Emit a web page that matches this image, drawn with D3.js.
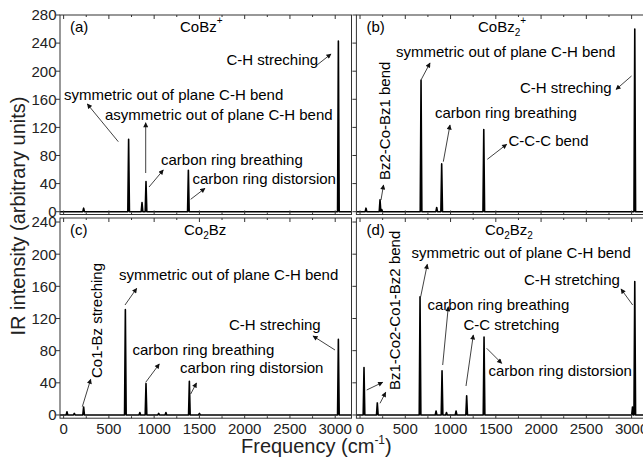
<!DOCTYPE html>
<html>
<head>
<meta charset="utf-8">
<script src="https://cdn.jsdelivr.net/npm/d3@7/dist/d3.min.js"></script>
<style>
body { margin: 0; background: #fff; }
svg { display: block; font-family: "Liberation Sans", Arial, sans-serif; }
</style>
</head>
<body>
<div id="chart"></div>
<script>
// peak positions (cm-1) and intensities
const freqA = [221, 718, 866, 910, 1378, 3035];
const intensA = [5, 103, 13, 43, 59, 243];

const freqB = [66, 221, 240, 674, 847, 902, 1367, 3035];
const intensB = [5, 17, 3, 187, 6, 68, 117, 260];

const freqC = [37, 118, 221, 682, 842, 910, 1050, 1130, 1389, 1500, 3035];
const intensC = [4, 2, 10, 131, 3, 39, 2, 3, 42, 2, 94];

const freqD = [44, 191, 663, 840, 906, 955, 1061, 1178, 1370, 3010, 3035];
const intensD = [59, 15, 147, 5, 55, 3, 5, 24, 97, 10, 166];

const yTicksTop = [0, 40, 80, 120, 160, 200, 240, 280];
const yTicksBottom = [0, 40, 80, 120, 160, 200, 240];
const xTicks = [0, 500, 1000, 1500, 2000, 2500, 3000];
const xMinor = [250, 750, 1250, 1750, 2250, 2750];

const width = 643, height = 462;
const fs = 15;

const svg = d3.select('#chart')
    .append('svg')
    .attr('width', width)
    .attr('height', height);

svg.append('defs').append('marker')
    .attr('id', 'head')
    .attr('viewBox', '0 0 10 10')
    .attr('refX', 9)
    .attr('refY', 5)
    .attr('markerUnits', 'userSpaceOnUse')
    .attr('markerWidth', 6)
    .attr('markerHeight', 5)
    .attr('orient', 'auto')
    .append('path')
    .attr('d', 'M0,0 L10,5 L0,10 z')
    .attr('fill', '#111');

const panels = [
    {
        name: '(a)', freq: freqA, inten: intensA, left: 60, top: 15, bottom: 214.5,
        yDomain: [-4, 280], yTicks: yTicksTop, yLabels: true, xLabels: false,
        title: [{t: 'CoBz'}, {t: '+', sup: true}], titleX: 180,
        notes: [
            {t: 'C-H streching', x: 226.5, y: 65},
            {t: 'symmetric out of plane C-H bend', x: 64, y: 100},
            {t: 'asymmetric out of plane C-H bend', x: 105, y: 120},
            {t: 'carbon ring breathing', x: 161, y: 165},
            {t: 'carbon ring distorsion', x: 192.5, y: 184}
        ],
        arrows: [
            [317, 65, 331, 54],
            [118.3, 141.7, 87.3, 104],
            [145.7, 173, 145.7, 122.7],
            [149, 187, 163.3, 170],
            [190.7, 199.3, 205, 188.3]
        ]
    },
    {
        name: '(b)', freq: freqB, inten: intensB, left: 356.4, top: 15, bottom: 214.5,
        yDomain: [-4, 280], yTicks: yTicksTop, yLabels: false, xLabels: false,
        title: [{t: 'CoBz'}, {t: '2', sub: true}, {t: '+', sup: true}], titleX: 478,
        notes: [
            {t: 'symmetric out of plane C-H bend', x: 396, y: 56.5},
            {t: 'C-H streching', x: 520, y: 92.5},
            {t: 'carbon ring breathing', x: 435, y: 118},
            {t: 'C-C-C bend', x: 508.5, y: 146},
            {t: 'Bz2-Co-Bz1 bend', x: 390, y: 180, rot: true}
        ],
        arrows: [
            [381, 200, 383.5, 185],
            [421, 80, 430, 63],
            [631.5, 76, 616, 89.5],
            [443.3, 161.7, 450, 125],
            [487.3, 159.3, 506.7, 144.3]
        ]
    },
    {
        name: '(c)', freq: freqC, inten: intensC, left: 60, top: 218, bottom: 418.2,
        yDomain: [-4, 245], yTicks: yTicksBottom, yLabels: true, xLabels: true,
        title: [{t: 'Co'}, {t: '2', sub: true}, {t: 'Bz'}], titleX: 184,
        notes: [
            {t: 'symmetric out of plane C-H bend', x: 119, y: 280},
            {t: 'C-H streching', x: 229, y: 330},
            {t: 'carbon ring breathing', x: 132.5, y: 355},
            {t: 'carbon ring distorsion', x: 180, y: 372.5},
            {t: 'Co1-Bz streching', x: 101.5, y: 378, rot: true}
        ],
        arrows: [
            [82.3, 406.7, 90.7, 379.3],
            [125, 305, 136.7, 288.3],
            [335, 350, 313, 336],
            [145.7, 382.3, 159.3, 364],
            [190.7, 394, 196.5, 383]
        ]
    },
    {
        name: '(d)', freq: freqD, inten: intensD, left: 356.4, top: 218, bottom: 418.2,
        yDomain: [-4, 245], yTicks: yTicksBottom, yLabels: false, xLabels: true,
        title: [{t: 'Co'}, {t: '2', sub: true}, {t: 'Bz'}, {t: '2', sub: true}], titleX: 485,
        notes: [
            {t: 'symmetric out of plane C-H bend', x: 411.5, y: 257.5},
            {t: 'C-H stretching', x: 524, y: 285},
            {t: 'carbon ring breathing', x: 427.5, y: 310},
            {t: 'C-C stretching', x: 463.5, y: 330},
            {t: 'carbon ring distorsion', x: 488.5, y: 375.5},
            {t: 'Bz1-Co2-Co1-Bz2 bend', x: 399.5, y: 390, rot: true}
        ],
        arrows: [
            [366.7, 390, 382.7, 382.3],
            [380, 403.3, 385.7, 392.3],
            [420.7, 296.7, 427.3, 264.3],
            [632.7, 305, 621, 289],
            [442.7, 365, 448.3, 306.7],
            [466, 386, 473.3, 335],
            [486.7, 348.3, 501.7, 363.3]
        ]
    }
];

const panelW = 291.5;

panels.forEach(p => {
    const x = d3.scaleLinear().domain([-40, 3180]).range([p.left, p.left + panelW]);
    const y = d3.scaleLinear().domain(p.yDomain).range([p.bottom, p.top]);
    const g = svg.append('g');

    // spectrum: baseline plus a narrow spike per peak
    const pts = [[-40, 0]];
    p.freq.forEach((f, i) => {
        pts.push([f - 9, 0], [f, p.inten[i]], [f + 9, 0]);
    });
    pts.push([3180, 0]);

    g.append('path')
        .datum(pts)
        .attr('d', d3.line().x(d => x(d[0])).y(d => y(d[1])))
        .attr('fill', 'none')
        .attr('stroke', '#000')
        .attr('stroke-width', 1.6)
        .attr('stroke-linejoin', 'round');

    // frame
    g.append('rect')
        .attr('x', p.left).attr('y', p.top)
        .attr('width', panelW).attr('height', p.bottom - p.top)
        .attr('fill', 'none')
        .attr('stroke', '#333')
        .attr('stroke-width', 1);

    // x ticks, inward on top and bottom
    [[xTicks, 4], [xMinor, 2]].forEach(([ticks, len]) => {
        g.selectAll(null).data(ticks).enter().append('line')
            .attr('x1', d => x(d)).attr('x2', d => x(d))
            .attr('y1', p.bottom).attr('y2', p.bottom - len)
            .attr('stroke', '#333');
        g.selectAll(null).data(ticks).enter().append('line')
            .attr('x1', d => x(d)).attr('x2', d => x(d))
            .attr('y1', p.top).attr('y2', p.top + len)
            .attr('stroke', '#333');
    });

    if (p.xLabels) {
        g.selectAll(null).data(xTicks).enter().append('text')
            .attr('x', d => x(d))
            .attr('y', p.bottom + 15.5)
            .attr('text-anchor', 'middle')
            .attr('font-size', fs)
            .attr('fill', '#222')
            .text(d => d);
    }

    // y ticks, outward on the left
    g.selectAll(null).data(p.yTicks).enter().append('line')
        .attr('x1', p.left - 4).attr('x2', p.left)
        .attr('y1', d => y(d)).attr('y2', d => y(d))
        .attr('stroke', '#333');

    if (p.yLabels) {
        g.selectAll(null).data(p.yTicks).enter().append('text')
            .attr('x', p.left - 3.5)
            .attr('y', d => y(d))
            .attr('dy', '0.36em')
            .attr('text-anchor', 'end')
            .attr('font-size', fs)
            .attr('fill', '#222')
            .text(d => d);
    }

    // panel letter and title
    g.append('text')
        .attr('x', p.left + 10).attr('y', p.top + 16.5)
        .attr('font-size', fs)
        .text(p.name);

    const title = g.append('text')
        .attr('x', p.titleX).attr('y', p.top + 16.5)
        .attr('font-size', fs);
    let shift = 0;
    p.title.forEach(part => {
        const target = part.sub ? 4 : part.sup ? -8 : 0;
        title.append('tspan')
            .attr('dy', target - shift)
            .attr('font-size', part.sub || part.sup ? 10 : fs)
            .text(part.t);
        shift = target;
    });

    // annotations
    p.notes.forEach(n => {
        const t = g.append('text')
            .attr('font-size', fs)
            .text(n.t);
        if (n.rot) t.attr('transform', `translate(${n.x},${n.y}) rotate(-90)`);
        else t.attr('x', n.x).attr('y', n.y);
    });

    g.selectAll(null).data(p.arrows).enter().append('line')
        .attr('x1', d => d[0]).attr('y1', d => d[1])
        .attr('x2', d => d[2]).attr('y2', d => d[3])
        .attr('stroke', '#111')
        .attr('stroke-width', 0.8)
        .attr('marker-end', 'url(#head)');
});

// axis titles
svg.append('text')
    .attr('transform', 'translate(25,216) rotate(-90)')
    .attr('text-anchor', 'middle')
    .attr('font-size', 20)
    .attr('fill', '#222')
    .text('IR intensity (arbitrary units)');

const xt = svg.append('text')
    .attr('x', 241).attr('y', 453)
    .attr('font-size', 20)
    .attr('fill', '#222');
xt.append('tspan').text('Frequency (cm');
xt.append('tspan').attr('dy', -9).attr('font-size', 12).text('-1');
xt.append('tspan').attr('dy', 9).text(')');
</script>
</body>
</html>
